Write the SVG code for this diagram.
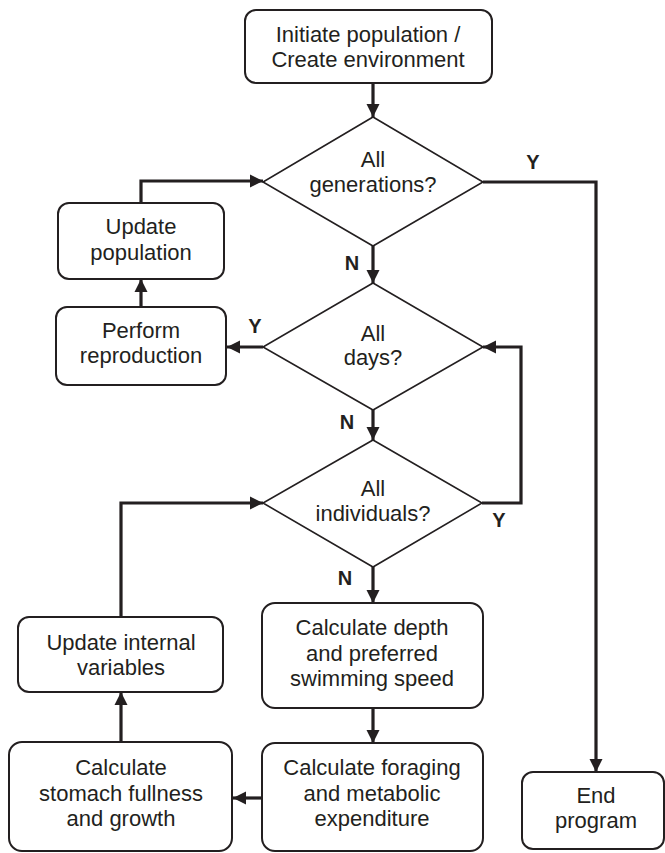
<svg xmlns="http://www.w3.org/2000/svg" width="665" height="853" viewBox="0 0 665 853">
<style>
.box{fill:#fff;stroke:#231f20;stroke-width:2}
.dia{fill:#fff;stroke:#231f20;stroke-width:1.6}
.t{font-family:"Liberation Sans",Arial,sans-serif;font-size:22px;fill:#231f20;text-anchor:middle}
.lbl{font-family:"Liberation Sans",Arial,sans-serif;font-size:20px;font-weight:bold;fill:#231f20;text-anchor:middle}
.c{fill:none;stroke:#231f20;stroke-width:3.2;marker-end:url(#ah)}
</style>
<defs>
<marker id="ah" markerUnits="userSpaceOnUse" markerWidth="14" markerHeight="14" viewBox="0 0 14 14" refX="13" refY="7" orient="auto">
<path d="M0,0.5 L13,7 L0,13.5 Z" fill="#231f20"/>
</marker>
</defs>
<rect width="665" height="853" fill="#fff"/>
<g id="connectors">
<path class="c" d="M373,83 V117"/>
<path class="c" d="M483,182 H596 V772"/>
<path class="c" d="M373,246 V283"/>
<path class="c" d="M263,347 H227"/>
<path class="c" d="M141,307 V279"/>
<path class="c" d="M141,203 V181 H263"/>
<path class="c" d="M373,410 V440"/>
<path class="c" d="M482,503 H521 V347 H483"/>
<path class="c" d="M373,567 V603"/>
<path class="c" d="M373,708 V743"/>
<path class="c" d="M262,798 H233"/>
<path class="c" d="M121,742 V692"/>
<path class="c" d="M121,617 V503 H263"/>
</g>
<g id="labels">
<text class="lbl" x="533" y="169">Y</text>
<text class="lbl" x="352" y="270">N</text>
<text class="lbl" x="255" y="333">Y</text>
<text class="lbl" x="347" y="429">N</text>
<text class="lbl" x="499" y="527">Y</text>
<text class="lbl" x="345" y="585">N</text>
</g>
<g id="init">
<rect class="box" x="245" y="10" width="247" height="73" rx="11"/>
<text class="t" x="368" y="42">Initiate population /</text>
<text class="t" x="368" y="67">Create environment</text>
</g>
<g id="allgen">
<polygon class="dia" points="373,117 483,182 373,246 263,182"/>
<text class="t" x="373" y="167">All</text>
<text class="t" x="373" y="192">generations?</text>
</g>
<g id="updpop">
<rect class="box" x="58" y="203" width="166" height="76" rx="11"/>
<text class="t" x="141" y="234">Update</text>
<text class="t" x="141" y="260">population</text>
</g>
<g id="repro">
<rect class="box" x="56" y="307" width="170" height="78" rx="11"/>
<text class="t" x="141" y="338">Perform</text>
<text class="t" x="141" y="363">reproduction</text>
</g>
<g id="alldays">
<polygon class="dia" points="373,283 483,347 373,410 263,347"/>
<text class="t" x="373" y="341">All</text>
<text class="t" x="373" y="365">days?</text>
</g>
<g id="allind">
<polygon class="dia" points="373,440 482,503 373,567 263,503"/>
<text class="t" x="373" y="496">All</text>
<text class="t" x="373" y="521">individuals?</text>
</g>
<g id="updint">
<rect class="box" x="18" y="617" width="205" height="75" rx="11"/>
<text class="t" x="121" y="650">Update internal</text>
<text class="t" x="121" y="675">variables</text>
</g>
<g id="depth">
<rect class="box" x="262" y="603" width="221" height="105" rx="13"/>
<text class="t" x="372" y="635">Calculate depth</text>
<text class="t" x="372" y="661">and preferred</text>
<text class="t" x="372" y="686">swimming speed</text>
</g>
<g id="stomach">
<rect class="box" x="9" y="742" width="223" height="109" rx="13"/>
<text class="t" x="121" y="775">Calculate</text>
<text class="t" x="121" y="801">stomach fullness</text>
<text class="t" x="121" y="826">and growth</text>
</g>
<g id="forage">
<rect class="box" x="262" y="743" width="221" height="108" rx="13"/>
<text class="t" x="372" y="775">Calculate foraging</text>
<text class="t" x="372" y="801">and metabolic</text>
<text class="t" x="372" y="826">expenditure</text>
</g>
<g id="end">
<rect class="box" x="522" y="772" width="142" height="77" rx="11"/>
<text class="t" x="596" y="803">End</text>
<text class="t" x="596" y="828">program</text>
</g>
</svg>
